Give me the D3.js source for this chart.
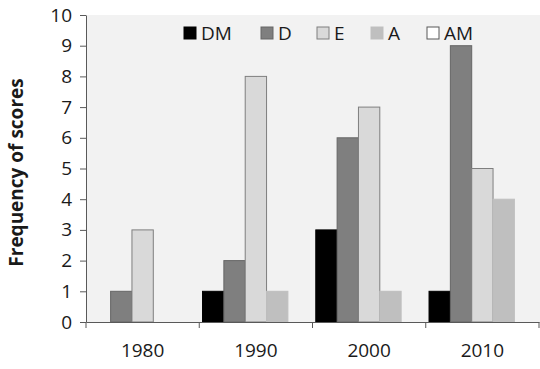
<!DOCTYPE html>
<html><head><meta charset="utf-8">
<script src="https://cdn.jsdelivr.net/npm/d3@7"></script>
<style>body{margin:0;background:#fff}svg{display:block}text{font-family:"Open Sans",sans-serif}</style>
</head><body><svg id="c" width="540" height="369"></svg>
<script>
const categories = ["1980","1990","2000","2010"];
const seriesNames = ["DM","D","E","A","AM"];
const DM = [0,1,3,1];
const D  = [1,2,6,9];
const E  = [3,8,7,5];
const A  = [0,1,1,4];
const AM = [0,0,0,0];
const yTicks = [0,1,2,3,4,5,6,7,8,9,10];
const seriesValues = [DM,D,E,A,AM];
const fills = ["#000000","#7f7f7f","#d9d9d9","#bfbfbf","#ffffff"];
const strokes = ["#000000","#666666","#7f7f7f","#bfbfbf","#595959"];

const svg = d3.select("#c");
const m = {l:86, r:539, t:15, b:322};
const x = d3.scaleBand().domain(categories).range([m.l, m.r]).paddingInner(0).paddingOuter(0);
const y = d3.scaleLinear().domain([0,10]).range([m.b, m.t]);
const inner = d3.scaleBand().domain(seriesNames).range([0, x.bandwidth()]).paddingOuter(0.1535).paddingInner(0);

svg.append("rect").attr("x", m.l).attr("y", m.t).attr("width", m.r - m.l + 1).attr("height", m.b - m.t).attr("fill", "#f2f2f2");

const data = [];
categories.forEach((c,i)=>seriesNames.forEach((s,j)=>data.push({c, s, j, v: seriesValues[j][i]})));
svg.append("g").selectAll("rect").data(data.filter(d=>d.v>0)).join("rect")
  .attr("x", d=>x(d.c)+inner(d.s))
  .attr("y", d=>y(d.v))
  .attr("width", inner.bandwidth())
  .attr("height", d=>y(0)-y(d.v))
  .attr("fill", d=>fills[d.j])
  .attr("stroke", d=>strokes[d.j])
  .attr("stroke-width", 1);

const yAxis = svg.append("g").attr("transform", `translate(${m.l},0)`)
  .call(d3.axisLeft(y).tickValues(yTicks).tickSize(6).tickSizeOuter(0).tickPadding(8));
yAxis.select(".domain").attr("stroke", "#595959");
yAxis.selectAll(".tick line").attr("stroke", "#595959");
yAxis.selectAll("text").attr("font-size", 19).attr("fill", "#1a1a1a").attr("font-family", "'Open Sans',sans-serif");

const xAxis = svg.append("g").attr("transform", `translate(0,${m.b})`)
  .call(d3.axisBottom(x).tickSize(0).tickPadding(22));
xAxis.select(".domain").attr("stroke", "#595959");
xAxis.selectAll("text").attr("font-size", 19).attr("fill", "#1a1a1a").attr("font-family", "'Open Sans',sans-serif");
const bounds = categories.map(c=>x(c)).concat([x(categories[categories.length-1])+x.bandwidth()]);
svg.append("g").selectAll("line").data(bounds).join("line")
  .attr("x1", d=>d).attr("x2", d=>d).attr("y1", m.b).attr("y2", m.b+6).attr("stroke", "#595959");

svg.append("text").attr("transform", `translate(23,${(m.t+m.b)/2+4}) rotate(-90)`)
  .attr("text-anchor","middle").attr("font-size", 19).attr("font-weight","bold").attr("fill","#1a1a1a")
  .text("Frequency of scores");

const legX = [184, 261, 317, 371, 427];
const lg = svg.append("g").selectAll("g").data(seriesNames).join("g")
  .attr("transform", (d,i)=>`translate(${legX[i]},27)`);
lg.append("rect").attr("width", 12).attr("height", 12)
  .attr("fill", (d,i)=>fills[i]).attr("stroke", (d,i)=>strokes[i]);
lg.append("text").attr("x", 17).attr("y", 13).attr("font-size", 19).attr("fill","#1a1a1a").text(d=>d);
</script></body></html>
